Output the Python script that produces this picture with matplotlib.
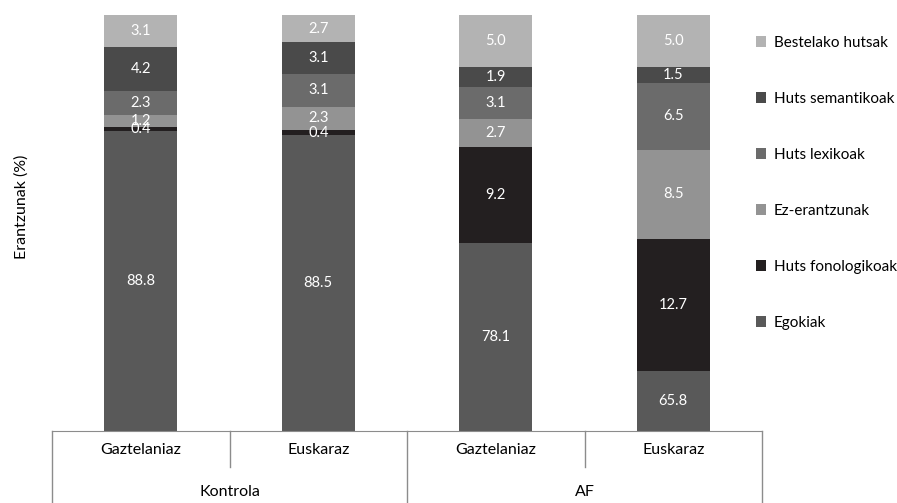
import matplotlib.pyplot as plt
import numpy as np

plt.rcParams['font.family'] = ['Lato', 'DejaVu Sans']

groups = ['Kontrola', 'AF']
langs = ['Gaztelaniaz', 'Euskaraz', 'Gaztelaniaz', 'Euskaraz']
series = ['Egokiak', 'Huts fonologikoak', 'Ez-erantzunak',
          'Huts lexikoak', 'Huts semantikoak', 'Bestelako hutsak']
colors = ['#595959', '#231f20', '#939393', '#6b6b6b', '#4a4a4a', '#b3b3b3']

egokiak = [88.8, 88.5, 78.1, 65.8]
fonologikoak = [0.4, 0.4, 9.2, 12.7]
ez_erantzunak = [1.2, 2.3, 2.7, 8.5]
lexikoak = [2.3, 3.1, 3.1, 6.5]
semantikoak = [4.2, 3.1, 1.9, 1.5]
bestelako = [3.1, 2.7, 5.0, 5.0]
values = [egokiak, fonologikoak, ez_erantzunak, lexikoak, semantikoak, bestelako]

ymin, ymax = 60, 100

fig = plt.figure(figsize=(8.97, 5.03), dpi=100)
ax = fig.add_axes([52/897, 72/503, 710/897, 416/503])

x = np.arange(len(langs))
bottom = np.zeros(len(langs))
handles = []
for name, vals, c in zip(series, values, colors):
    vals = np.array(vals)
    h = ax.bar(x, vals, bottom=bottom, width=0.41, color=c, label=name)
    handles.append(h)
    for xi, b, v in zip(x, bottom, vals):
        lo = max(b, ymin)
        hi = min(b + v, ymax)
        if hi > lo:
            ax.text(xi, (lo + hi) / 2, f'{v:.1f}', color='white',
                    ha='center', va='center', fontsize=10.5)
    bottom += vals

ax.set_ylim(ymin, ymax)
ax.set_xlim(-0.5, 3.5)
ax.set_yticks([])
ax.set_xticks([])
for s in ['left', 'right', 'top']:
    ax.spines[s].set_visible(False)
ax.spines['bottom'].set_color('#8c8c8c')

# two-level category axis
tr = ax.get_xaxis_transform()
line_c = '#8c8c8c'
for xb in [0.5, 2.5]:
    ax.plot([xb, xb], [0, -0.0865], transform=tr, color=line_c, lw=1, clip_on=False)
for xb in [-0.5, 1.5, 3.5]:
    ax.plot([xb, xb], [0, -0.175], transform=tr, color=line_c, lw=1, clip_on=False)
for xi, lab in zip(x, langs):
    ax.text(xi, -0.046, lab, transform=tr, ha='center', va='center', fontsize=11.5)
for gi, g in enumerate(groups):
    ax.text(gi * 2 + 0.5, -0.147, g, transform=tr, ha='center', va='center', fontsize=11.5)

fig.text(22/897, 1 - 207/503, 'Erantzunak (%)', rotation=90,
         ha='center', va='center', fontsize=11.5)

fig.legend(handles[::-1], series[::-1], loc='upper left',
           bbox_to_anchor=(748/897, 1 - 28/503), frameon=False,
           fontsize=11, labelspacing=2.75, handlelength=0.7,
           handleheight=0.7, handletextpad=0.5, borderpad=0)

fig.savefig('out.png', dpi=100)
